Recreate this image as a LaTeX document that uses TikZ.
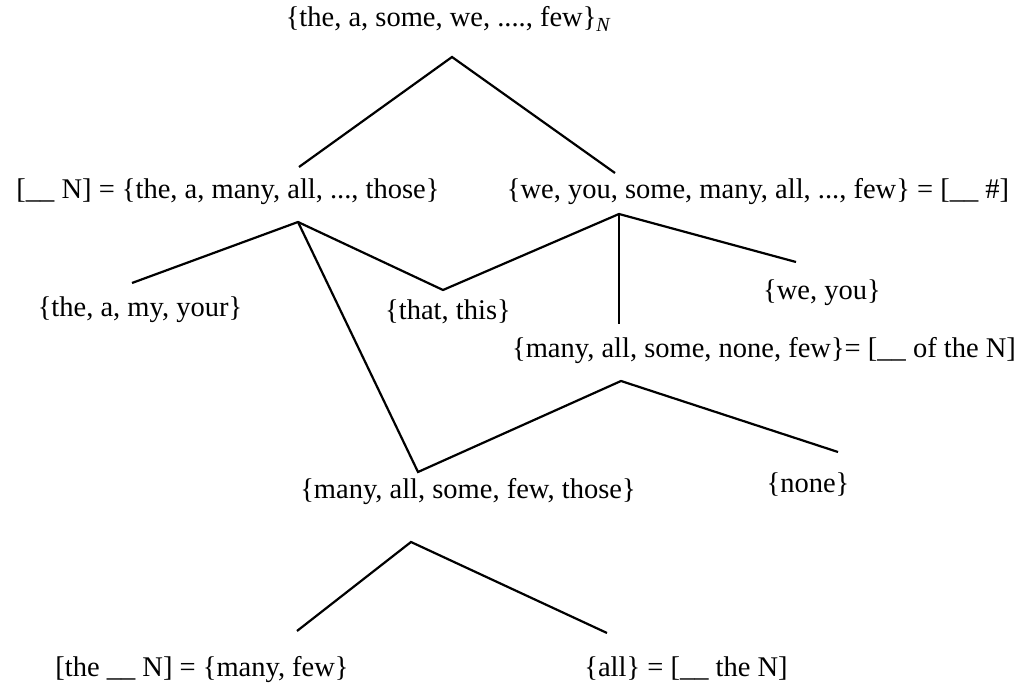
\documentclass[tikz,border=0pt]{standalone}
\usepackage{fontspec}
\setmainfont{Liberation Serif}
\begin{document}
\begin{tikzpicture}[x=1pt,y=-1pt,
  lbl/.style={anchor=base,inner sep=0pt,font=\fontsize{28.5}{34}\selectfont},
  branch/.style={line width=2.2pt,line join=miter}]
\useasboundingbox (0,0) rectangle (1034,684);

% labels
\node[lbl] (root) at (448,27) {\{the, a, some, we, ...., few\}\textsubscript{\itshape N}};
\node[lbl] (preN) at (228,199) {[\_\_ N] = \{the, a, many, all, ..., those\}};
\node[lbl] (preNum) at (758,199) {\{we, you, some, many, all, ..., few\} = [\_\_ \#]};
\node[lbl] (theamy) at (140,317) {\{the, a, my, your\}};
\node[lbl] (thatthis) at (448,320) {\{that, this\}};
\node[lbl] (weyou) at (822,300) {\{we, you\}};
\node[lbl] (ofthe) at (764,358) {\{many, all, some, none, few\}= [\_\_ of the N]};
\node[lbl] (none) at (808,493) {\{none\}};
\node[lbl] (quant) at (468,498) {\{many, all, some, few, those\}};
\node[lbl] (theN) at (202,676) {[the \_\_ N] = \{many, few\}};
\node[lbl] (all) at (686,676) {\{all\} = [\_\_ the N]};

% branch points
\coordinate (rootTop) at (452,57);
\coordinate (rootL) at (299,167);
\coordinate (rootR) at (615,173);
\coordinate (preNTop) at (298,222);
\coordinate (theamyEnd) at (132,283);
\coordinate (thatDip) at (443,290);
\coordinate (preNumTop) at (619,214);
\coordinate (weyouEnd) at (796,262);
\coordinate (ofEnd) at (619,324);
\coordinate (quantDip) at (418,472);
\coordinate (ofTop) at (621,381);
\coordinate (noneEnd) at (838,452);
\coordinate (quantTop) at (411,542);
\coordinate (theNEnd) at (297,631);
\coordinate (allEnd) at (607,633);

% branches
\draw[branch] (rootL) -- (rootTop) -- (rootR);
\draw[branch] (theamyEnd) -- (preNTop) -- (thatDip) -- (preNumTop) -- (weyouEnd);
\draw[branch] (preNumTop) -- (ofEnd);
\draw[branch] (preNTop) -- (quantDip) -- (ofTop) -- (noneEnd);
\draw[branch] (theNEnd) -- (quantTop) -- (allEnd);
\end{tikzpicture}
\end{document}
